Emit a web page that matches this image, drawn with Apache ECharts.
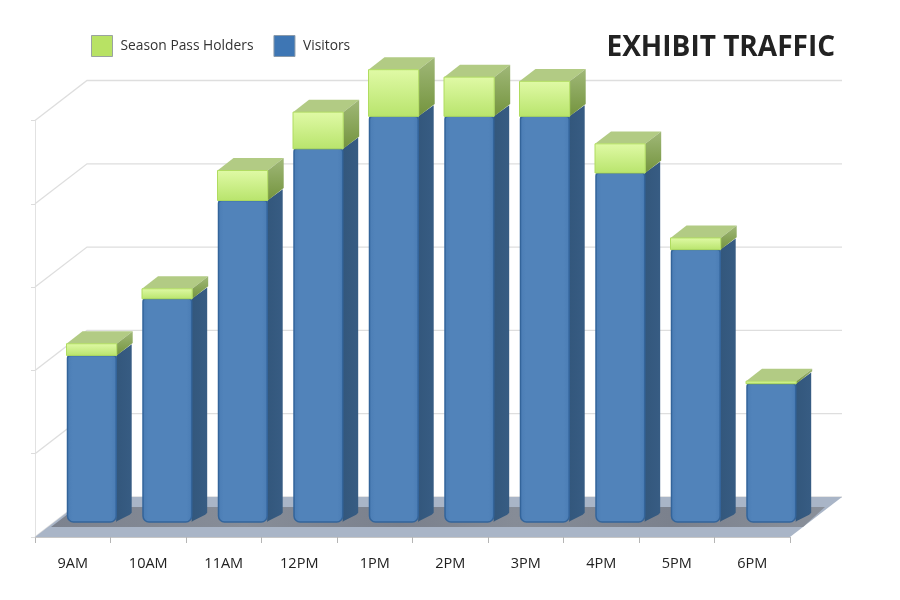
<!DOCTYPE html>
<html><head><meta charset="utf-8">
<style>html,body{margin:0;padding:0;background:#fff}#c{width:900px;height:600px}</style>
<script src="https://cdn.jsdelivr.net/npm/echarts@6/dist/echarts.min.js"></script>
</head><body><div id="c"></div>
<script>
const hours = ['9AM','10AM','11AM','12PM','1PM','2PM','3PM','4PM','5PM','6PM'];
const visitors = [200,268,386,448,487,487,487,419,327,166];
const passHolders = [14,12,36,44,56,47,42,35,14,3];
const gridValues = [0,100,200,300,400,500];

const FONT = '"Open Sans", sans-serif';
const DEPTH = {x:52, y:40};          // full floor depth in pixels
const BAR = {frac:.375, wide:.645, sideX:15.5, sideY:12.2};
const lin = (x2,y2,stops)=>({type:'linear',x:0,y:0,x2,y2,colorStops:stops.map(s=>({offset:s[0],color:s[1]}))});

function poly(points, fill, extra){
  return {type:'polygon', shape:{points}, style:Object.assign({fill}, extra||{})};
}
function barBox(api, base, top){
  const c0 = api.coord([api.value(0), base]);
  const c1 = api.coord([api.value(0), top]);
  const w = api.size([1,0])[0]*BAR.wide;
  const ox = DEPTH.x*BAR.frac-.4, oy = DEPTH.y*BAR.frac;
  return {x:c0[0]-w/2+ox, w, y1:c1[1]-oy, y0:c0[1]-oy};
}
function renderFloor(params, api){
  const g = params.coordSys, L=g.x, R=g.x+g.width, B=g.y+g.height;
  const at=(x,d)=>[x+DEPTH.x*d, B-DEPTH.y*d];
  return {type:'group', children:[
    poly([at(L,0),at(R,0),at(R,1),at(L,1)], '#a9b5c7'),
    poly([at(L+3,.25),at(R,.25),at(R-4,.75),at(L+3,.75)], lin(1,0,[[0,'#7c828e'],[.25,'#878d98'],[.45,'#7a808c'],[.6,'#868c97'],[.8,'#7b818d'],[1,'#8a909a']]))
  ]};
}
function renderGrid(params, api){
  const g = params.coordSys, L=g.x, R=g.x+g.width;
  const y = api.coord([0, api.value(0)])[1];
  return {type:'polyline', shape:{points:[[L,y],[L+DEPTH.x,y-DEPTH.y],[R+DEPTH.x,y-DEPTH.y]]},
    style:{fill:null, stroke:'#dedede', lineWidth:1.3}};
}
function renderVisitors(params, api){
  const b = barBox(api, 0, api.value(1));
  const r = b.x+b.w, dx=BAR.sideX, dy=BAR.sideY;
  return {type:'group', children:[
    poly([[r,b.y1],[r+dx,b.y1-dy+1],[r+dx,b.y0-dy+3],[r+dx-2,b.y0-dy+5],[r+1,b.y0-1],[r,b.y0]],
         lin(1,0,[[0,'#33577c'],[1,'#375c83']])),
    {type:'rect', shape:{x:b.x, y:b.y1, width:b.w, height:b.y0-b.y1, r:[3,3,6,6]},
     style:{fill:lin(1,0,[[0,'#4a7cb4'],[.12,'#5183ba'],[.88,'#5183ba'],[1,'#4a7cb4']]), stroke:'#33649a', lineWidth:1.5}}
  ]};
}
function renderPass(params, api){
  const base = api.value(1), b = barBox(api, base, base+api.value(2));
  const x=b.x-1, w=b.w+1.5, r=x+w, dx=BAR.sideX+.5, dy=BAR.sideY+.2;
  return {type:'group', children:[
    poly([[x,b.y1],[r,b.y1],[r+dx,b.y1-dy],[x+dx,b.y1-dy]], '#b2cb84'),
    poly([[r,b.y1],[r+dx,b.y1-dy],[r+dx,b.y0-dy],[r,b.y0]], lin(0,1,[[0,'#a0b878'],[1,'#74943e']])),
    {type:'rect', shape:{x, y:b.y1, width:w, height:b.y0-b.y1},
     style:{fill:lin(0,1,[[0,'#e0faa6'],[1,'#b8e46c']]), stroke:'#b0dc60', lineWidth:1}}
  ]};
}

const chart = echarts.init(document.getElementById('c'), null, {renderer:'canvas'});
chart.setOption({
  animation:false,
  backgroundColor:'#fff',
  title:{text:'EXHIBIT TRAFFIC', right:60, top:29,
    textStyle:{fontFamily:FONT, fontWeight:'bold', fontSize:28, color:'#222222'}},
  legend:{left:86, top:30, itemWidth:21, itemHeight:21, itemGap:20, selectedMode:false,
    data:[
      {name:'Season Pass Holders', icon:'rect', itemStyle:{color:'#b8e264', borderColor:'#9aa3a0', borderWidth:1}},
      {name:'Visitors', icon:'rect', itemStyle:{color:'#3e76b4', borderColor:'#8a9aaa', borderWidth:1}}
    ],
    textStyle:{fontFamily:FONT, fontSize:13.8, color:'#333333', padding:[0,0,0,3]}},
  grid:{left:35, right:110, top:120.5, bottom:63, containLabel:false},
  xAxis:{type:'category', data:hours,
    axisLine:{lineStyle:{color:'#c6c6c6'}},
    axisTick:{show:true, length:6, lineStyle:{color:'#b5b5b5'}},
    axisLabel:{fontFamily:FONT, fontSize:14.5, color:'#222222', margin:19}},
  yAxis:{type:'value', min:0, max:500, interval:100,
    axisLine:{show:true, lineStyle:{color:'#e2e2e2'}},
    axisTick:{show:true, length:4, lineStyle:{color:'#dcdcdc'}},
    axisLabel:{show:false}, splitLine:{show:false}},
  series:[
    {type:'custom', name:'grid', silent:true, z:1, renderItem:renderGrid, clip:false,
     encode:{y:0}, data:gridValues.map(v=>[v])},
    {type:'custom', name:'floor', silent:true, z:2, renderItem:renderFloor, clip:false,
     encode:{x:0,y:1}, data:[[0,0]]},
    {type:'custom', name:'Visitors', silent:true, z:3, renderItem:renderVisitors, clip:false,
     itemStyle:{color:'#3e76b4'}, encode:{x:0,y:1},
     data:hours.map((h,i)=>[i,visitors[i],passHolders[i]])},
    {type:'custom', name:'Season Pass Holders', silent:true, z:4, renderItem:renderPass, clip:false,
     itemStyle:{color:'#b8e264'}, encode:{x:0,y:1},
     data:hours.map((h,i)=>[i,visitors[i],passHolders[i]])}
  ]
});
</script></body></html>
